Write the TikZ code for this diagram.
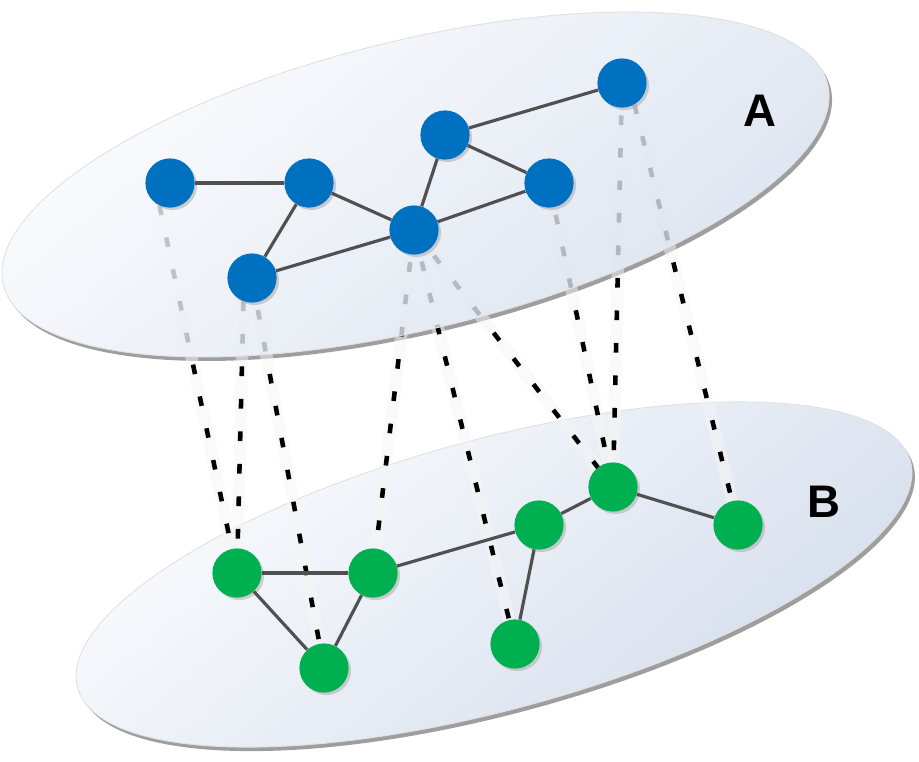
\documentclass[tikz,border=0pt]{standalone}
\usepackage{fontspec}
\setmainfont{Liberation Sans}
\usetikzlibrary{shadows}

\pgfdeclarelayer{planeB}
\pgfdeclarelayer{links}
\pgfdeclarelayer{planeA}
\pgfsetlayers{planeB,links,planeA,main}

\definecolor{nodeblue}{RGB}{0,112,192}
\definecolor{nodegreen}{RGB}{0,176,80}
\definecolor{edgegray}{RGB}{80,80,80}
\definecolor{planelight}{RGB}{251,252,254}
\definecolor{planedark}{RGB}{212,221,236}
\definecolor{planerim}{RGB}{158,158,158}

\tikzset{
  vtx/.style={circle, minimum size=28pt, inner sep=0pt,
    drop shadow={shadow xshift=1.4pt, shadow yshift=-1.4pt, fill=black!35, opacity=0.5}},
  vtxA/.style={vtx, fill=nodeblue},
  vtxB/.style={vtx, fill=nodegreen},
  edge/.style={draw=edgegray, line width=1.8pt},
  link/.style={black, line width=2.6pt, dash pattern=on 5.5pt off 13pt,
    preaction={draw=black!4, draw opacity=0.5, line width=7pt, solid}},
  planelabel/.style={font=\fontsize{26}{30}\selectfont\bfseries}
}

\begin{document}
\begin{tikzpicture}[x=0.02cm, y=-0.02cm]
    \useasboundingbox (0,0) rectangle (919,761);

    % Plane B (and the opaque base of plane A)
    \begin{pgfonlayer}{planeB}
    \fill[planerim, rotate around={15.2:(497,578.5)}] (497,578.5) ellipse (431.5 and 135.1);
    \shade[rotate around={15.2:(494,574.5)}, top color=planelight, bottom color=planedark,
        shading angle=40, draw=black!12, line width=0.5pt] (494,574.5) ellipse (431.5 and 135.1);
    \fill[planerim, rotate around={13.7:(418.5,188.5)}] (418.5,188.5) ellipse (424.2 and 144.3);
    \fill[white, rotate around={13.7:(415.5,184.5)}] (415.5,184.5) ellipse (424.2 and 144.3);
    \end{pgfonlayer}

    % Plane A, see-through
    \begin{pgfonlayer}{planeA}
    \shade[rotate around={13.7:(415.5,184.5)}, top color=planelight, bottom color=planedark,
        shading angle=40, opacity=0.8] (415.5,184.5) ellipse (424.2 and 144.3);
    \draw[black!12, line width=0.5pt, rotate around={13.7:(415.5,184.5)}] (415.5,184.5) ellipse (424.2 and 144.3);
    \end{pgfonlayer}

    % Graph A
    \node[vtxA] (a1) at (170,183) {};
    \node[vtxA] (a2) at (309,183) {};
    \node[vtxA] (a3) at (445,135) {};
    \node[vtxA] (a4) at (622,83) {};
    \node[vtxA] (a5) at (549,183) {};
    \node[vtxA] (a6) at (414,230) {};
    \node[vtxA] (a7) at (252,278) {};
    \foreach \u/\v in {a1/a2, a2/a6, a2/a7, a7/a6, a6/a3, a3/a4, a3/a5, a5/a6}
        \draw[edge] (\u) -- (\v);
    \node[planelabel] (labA) at (760,111) {A};

    % Graph B
    \node[vtxB] (b1) at (237,573) {};
    \node[vtxB] (b2) at (373,573) {};
    \node[vtxB] (b3) at (324,668) {};
    \node[vtxB] (b4) at (515,644) {};
    \node[vtxB] (b5) at (539,525) {};
    \node[vtxB] (b6) at (613,487) {};
    \node[vtxB] (b7) at (738,525) {};
    \foreach \u/\v in {b1/b2, b1/b3, b3/b2, b2/b5, b5/b6, b6/b7, b5/b4}
        \draw[edge] (\u) -- (\v);
    \node[planelabel] (labB) at (824,502) {B};

    % Links between the planes
    \begin{pgfonlayer}{links}
    \foreach \u/\v in {a1.-115/b1.center, a7.-110/b1.center, a7.center/b3.center,
                       a6.center/b2.center, a6.center/b4.center, a6.center/b6.center,
                       a5.center/b6.center, a4.center/b6.center, a4.-60/b7.center}
        \draw[link] (\u) -- (\v);
    \end{pgfonlayer}
\end{tikzpicture}
\end{document}
